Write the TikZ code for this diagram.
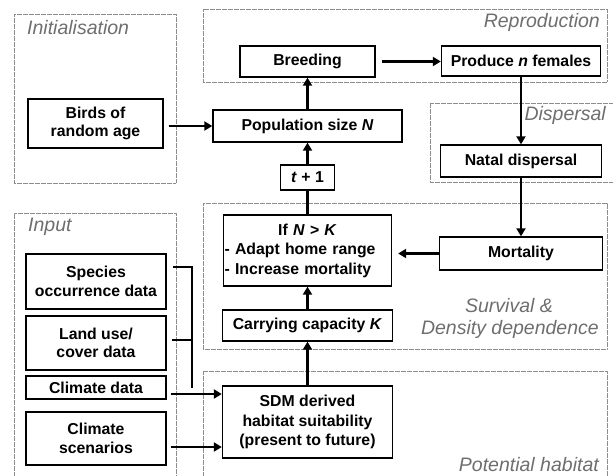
\documentclass[tikz,border=0pt]{standalone}
\usepackage{fontspec}
\setmainfont{Liberation Sans}
\usetikzlibrary{arrows.meta,calc}
\definecolor{grp}{HTML}{8C8C8C}
\definecolor{lbl}{HTML}{6E6E6E}
\tikzset{
  box/.style={draw=black, line width=1.35pt, fill=white,
    font=\fontsize{15.8}{18.5}\selectfont\bfseries, align=center, inner sep=0pt},
  grpline/.style={draw=grp, line width=0.8pt, dash pattern=on 0.6pt off 0.6pt},
  grplabel/.style={text=lbl, font=\fontsize{19.5}{23}\selectfont\itshape, inner sep=0pt},
  arr/.style={line width=2.2pt, -{Triangle[length=8pt,width=9pt]}},
  bus/.style={line width=2.2pt},
}
\begin{document}
\begin{tikzpicture}[x=1pt,y=-1pt]
\useasboundingbox (0,0) rectangle (613,476);
% groups
\draw[grpline] (14,14) rectangle (176,183);
\draw[grpline] (203,9) rectangle (607,82);
\draw[grpline] (614,103) -- (430,103) -- (430,182) -- (614,182);
\draw[grpline] (203,203) rectangle (607,349);
\draw[grpline] (14,477) -- (14,213) -- (176,213) -- (176,477);
\draw[grpline] (203,477) -- (203,371) -- (607,371) -- (607,477);
% group labels
\node[grplabel, anchor=base west] (linit) at (27,35) {Initialisation};
\node[grplabel, anchor=base east] (lrepro) at (600,28) {Reproduction};
\node[grplabel, anchor=base east] (ldisp) at (606,121) {Dispersal};
\node[grplabel, anchor=base west] (linput) at (28,231) {Input};
\node[grplabel, anchor=base] (lsurv) at (509,312) {Survival \&};
\node[grplabel, anchor=base east] (ldens) at (599,334) {Density dependence};
\node[grplabel, anchor=base east] (lpot) at (599,471) {Potential habitat};
% boxes
\node[box, minimum width=135pt, minimum height=49pt] (birds) at (95.5,123.5) {Birds of\\random age};
\node[box, minimum width=135pt, minimum height=31pt] (breeding) at (307.5,61.5) {Breeding};
\node[box, minimum width=159pt, minimum height=30pt] (produce) at (521,61) {Produce \textit{n} females};
\node[box, minimum width=189pt, minimum height=32pt] (pop) at (307.5,126) {Population size \textit{N}};
\node[box, minimum width=54pt, minimum height=25pt] (tplus) at (307.5,177.5) {\textit{t} + 1};
\node[box, minimum width=161pt, minimum height=32pt] (natal) at (521,161) {Natal dispersal};
\node[box, minimum width=168pt, minimum height=71pt, text width=166pt, align=left, font=\fontsize{15.8}{19.5}\selectfont\bfseries] (ifnk) at (307.5,250.5)
  {\makebox[\hsize]{If \textit{N} > \textit{K}}\\- Adapt home range\\- Increase mortality};
\node[box, minimum width=163pt, minimum height=33pt] (mort) at (521,253.5) {Mortality};
\node[box, minimum width=170pt, minimum height=31pt] (carry) at (307.5,325.5) {Carrying capacity \textit{K}};
\node[box, minimum width=170pt, minimum height=72pt, font=\fontsize{15.8}{19.5}\selectfont\bfseries] (sdm) at (307.5,422) {SDM derived\\habitat suitability\\(present to future)};
\node[box, minimum width=140pt, minimum height=55pt] (species) at (96,281.5) {Species\\occurrence data};
\node[box, minimum width=140pt, minimum height=54pt] (land) at (96,343) {Land use/\\cover data};
\node[box, minimum width=140pt, minimum height=23pt] (climd) at (96,387.5) {Climate data};
\node[box, minimum width=140pt, minimum height=53pt] (clims) at (96,438.5) {Climate\\scenarios};
% connectors
\draw[arr, shorten <=5pt] (pop.west -| birds.east) -- (pop.west);
\draw[arr] (pop.north) -- (breeding.south);
\draw[arr, shorten <=6pt] (breeding.east) -- (breeding.east -| produce.west);
\draw[arr] (produce.south) -- (natal.north);
\draw[arr] (natal.south) -- (mort.north);
\draw[arr, shorten >=6pt] (mort.west) -- (mort.west -| ifnk.east);
\draw[bus] (ifnk.north) -- (tplus.south);
\draw[arr] (tplus.north) -- (pop.south);
\draw[arr] (carry.north) -- (ifnk.south);
\draw[arr] (sdm.north) -- (carry.south);
\coordinate (busx) at (192,0);
\coordinate (sp) at ($(species.east)+(6,-14.5)$);
\coordinate (lu) at ($(land.east)+(5,-3)$);
\coordinate (cd) at ($(climd.east)+(4,6.5)$);
\coordinate (cs) at ($(clims.east)+(4,8.5)$);
\draw[bus] (sp) -| (busx |- climd.east);
\draw[bus] (lu) -- (lu -| busx);
\draw[arr] (cd) -- (cd -| sdm.west);
\draw[arr] (cs) -- (cs -| sdm.west);
\end{tikzpicture}
\end{document}
